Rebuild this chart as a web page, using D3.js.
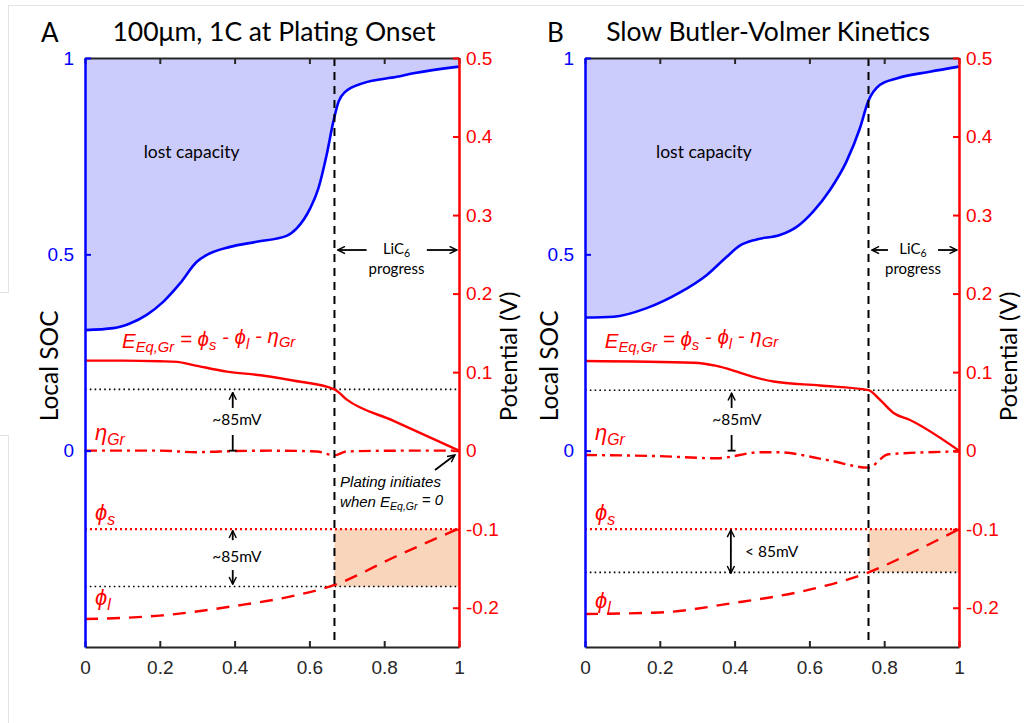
<!DOCTYPE html>
<html lang="en">
<head>
<meta charset="UTF-8">
<title>Local SOC and potentials at plating onset</title>
<style>
  body { margin: 0; background: #fff; }
  svg { display: block; font-family: "Liberation Sans", Arial, sans-serif; }
</style>
</head>
<body>
<script src="https://cdn.jsdelivr.net/npm/d3@7"></script>
<script>
  // axis ticks
  const xTicks = [0, 0.2, 0.4, 0.6, 0.8, 1];
  const socTicks = [0, 0.5, 1];
  const potTicks = [-0.2, -0.1, 0, 0.1, 0.2, 0.3, 0.4, 0.5];

  // panel A : 100um, 1C
  const socA = [[0, 0.307], [0.076, 0.312], [0.12, 0.324], [0.165, 0.346], [0.209, 0.379], [0.254, 0.426],
    [0.299, 0.481], [0.325, 0.498], [0.388, 0.519], [0.459, 0.532], [0.539, 0.547], [0.566, 0.566],
    [0.602, 0.617], [0.624, 0.668], [0.646, 0.753], [0.664, 0.838], [0.678, 0.889], [0.695, 0.913],
    [0.744, 0.936], [0.834, 0.952], [0.878, 0.961], [1, 0.978]];
  const eqA = [[0, 0.1146], [0.1, 0.1146], [0.2, 0.1138], [0.246, 0.113], [0.29, 0.109], [0.38, 0.1006],
    [0.47, 0.096], [0.56, 0.089], [0.667, 0.078], [0.7, 0.065], [0.825, 0.038], [1, 0]];
  const etaA = [[0, 0], [0.2, 0], [0.3, -0.002], [0.36, -0.001], [0.5, 0], [0.62, -0.001],
    [0.667, -0.006], [0.7, -0.001], [0.85, 0], [1, 0]];
  const phiLA = [[0, -0.2144], [0.2, -0.21], [0.397, -0.198], [0.557, -0.185], [0.667, -0.171],
    [0.825, -0.136], [1, -0.099]];
  const onsetA = 0.667, refHighA = 0.078, refLowA = -0.173;

  // panel B : slow Butler-Volmer kinetics
  const socB = [[0, 0.339], [0.076, 0.341], [0.165, 0.363], [0.254, 0.403], [0.325, 0.447], [0.379, 0.494],
    [0.414, 0.522], [0.459, 0.538], [0.521, 0.549], [0.566, 0.57], [0.61, 0.609], [0.655, 0.664],
    [0.699, 0.736], [0.735, 0.821], [0.757, 0.889], [0.788, 0.931], [0.833, 0.948], [0.922, 0.965], [1, 0.978]];
  const eqB = [[0, 0.1142], [0.29, 0.112], [0.352, 0.108], [0.406, 0.1006], [0.45, 0.094], [0.504, 0.088],
    [0.628, 0.083], [0.758, 0.077], [0.789, 0.0646], [0.825, 0.048], [0.869, 0.039], [1, 0]];
  const etaB = [[0, -0.0055], [0.2, -0.007], [0.352, -0.0097], [0.468, -0.002], [0.513, -0.002],
    [0.649, -0.012], [0.758, -0.0216], [0.811, -0.0046], [1, -0.001]];
  const phiLB = [[0, -0.208], [0.2, -0.206], [0.397, -0.194], [0.6, -0.177], [0.758, -0.155],
    [0.878, -0.129], [1, -0.1]];
  const onsetB = 0.758, refHighB = 0.077, refLowB = -0.155;

  const phiS = -0.1;

  const width = 1024, height = 723;
  const plotTop = 58, plotBottom = 647, plotW = 374;
  const blue = "#0000ff", red = "#ff0000", ink = "#262626";

  const svg = d3.select("body").append("svg").attr("width", width).attr("height", height);

  // faint screenshot borders
  const frame = svg.append("g").attr("stroke", "#e3e3e3").attr("stroke-width", 1);
  frame.append("line").attr("x1", 8).attr("x2", width).attr("y1", 5.5).attr("y2", 5.5);
  frame.append("line").attr("x1", 8.5).attr("x2", 8.5).attr("y1", 5.5).attr("y2", 292.5);
  frame.append("line").attr("x1", 0).attr("x2", 8.5).attr("y1", 292.5).attr("y2", 292.5);
  frame.append("line").attr("x1", 0).attr("x2", 8.5).attr("y1", 435.5).attr("y2", 435.5);
  frame.append("line").attr("x1", 8.5).attr("x2", 8.5).attr("y1", 435.5).attr("y2", height);

  const defs = svg.append("defs");
  defs.append("marker")
    .attr("id", "head").attr("viewBox", "0 0 10 10")
    .attr("refX", 9).attr("refY", 5)
    .attr("markerWidth", 9).attr("markerHeight", 9)
    .attr("markerUnits", "userSpaceOnUse").attr("orient", "auto-start-reverse")
    .append("path").attr("d", "M1,1L9,5L1,9").attr("fill", "none")
    .attr("stroke", "#000").attr("stroke-width", 1.6);

  // subscript helper: parts = [[text, isSub], ...]
  function rich(t, parts, subScale) {
    let down = false;
    parts.forEach(([s, sub]) => {
      const ts = t.append("tspan").text(s);
      if (sub && !down) { ts.attr("dy", "0.3em").attr("font-size", subScale); down = true; }
      else if (sub) { ts.attr("font-size", subScale); }
      else if (!sub && down) { ts.attr("dy", "-0.3em"); down = false; }
    });
    return t;
  }

  function drawPanel(cfg) {
    const x = d3.scaleLinear().domain([0, 1]).range([cfg.left, cfg.left + plotW]);
    const ySoc = d3.scaleLinear().domain([-0.5, 1]).range([plotBottom, plotTop]);
    const yPot = d3.scaleLinear().domain([-0.25, 0.5]).range([plotBottom, plotTop]);
    const g = svg.append("g");

    // lost capacity area
    g.append("path").datum(cfg.soc)
      .attr("fill", "#ccccfc")
      .attr("d", d3.area().x(d => x(d[0])).y0(ySoc(1)).y1(d => ySoc(d[1])).curve(d3.curveMonotoneX));

    // plating window
    g.append("rect")
      .attr("x", x(cfg.onset)).attr("width", x(1) - x(cfg.onset))
      .attr("y", yPot(phiS)).attr("height", yPot(cfg.refLow) - yPot(phiS))
      .attr("fill", "#f8d5bb");

    // horizontal reference lines
    const hline = (v, color, w, dash) => g.append("line")
      .attr("x1", x(0)).attr("x2", x(1)).attr("y1", yPot(v)).attr("y2", yPot(v))
      .attr("stroke", color).attr("stroke-width", w).attr("stroke-dasharray", dash);
    hline(cfg.refHigh, "#000", 1.6, "1.6,3.2");
    hline(cfg.refLow, "#000", 1.6, "1.6,3.2");
    hline(phiS, red, 2.2, "2,3");

    const line = d3.line().x(d => x(d[0])).y(d => yPot(d[1])).curve(d3.curveMonotoneX);
    g.append("path").datum(cfg.phiL).attr("d", line).attr("fill", "none")
      .attr("stroke", red).attr("stroke-width", 2.4).attr("stroke-dasharray", "13,9");
    g.append("path").datum(cfg.eta).attr("d", line).attr("fill", "none")
      .attr("stroke", red).attr("stroke-width", 2.4).attr("stroke-dasharray", "12,5,3,5");
    g.append("path").datum(cfg.eq).attr("d", line).attr("fill", "none")
      .attr("stroke", red).attr("stroke-width", 2.4);

    g.append("path").datum(cfg.soc).attr("fill", "none")
      .attr("stroke", blue).attr("stroke-width", 2.6)
      .attr("d", d3.line().x(d => x(d[0])).y(d => ySoc(d[1])).curve(d3.curveMonotoneX));

    // onset marker
    g.append("line")
      .attr("x1", x(cfg.onset)).attr("x2", x(cfg.onset))
      .attr("y1", yPot(0.5)).attr("y2", yPot(-0.242))
      .attr("stroke", "#000").attr("stroke-width", 2).attr("stroke-dasharray", "8,6");

    // axes
    const styleAxis = (a, color, size) => {
      a.attr("font-family", "'Liberation Sans', Arial, sans-serif").attr("font-size", size);
      a.select(".domain").attr("stroke", color);
      a.selectAll(".tick line").attr("stroke", color).attr("stroke-width", 2);
      a.selectAll(".tick text").attr("fill", color);
    };
    const axB = g.append("g").attr("transform", `translate(0,${plotBottom})`)
      .call(d3.axisBottom(x).tickValues(xTicks).tickSize(-6).tickSizeOuter(0).tickPadding(14).tickFormat(d => String(d)));
    styleAxis(axB, ink, 19);
    axB.select(".domain").attr("stroke-width", 2);
    const axT = g.append("g").attr("transform", `translate(0,${plotTop})`)
      .call(d3.axisTop(x).tickValues(xTicks).tickSize(-6).tickSizeOuter(0).tickFormat(""));
    styleAxis(axT, ink, 19);
    axT.select(".domain").attr("stroke-width", 2);
    const axL = g.append("g").attr("transform", `translate(${x(0)},0)`)
      .call(d3.axisLeft(ySoc).tickValues(socTicks).tickSize(-6).tickSizeOuter(0).tickPadding(11).tickFormat(d => String(d)));
    styleAxis(axL, blue, 19);
    axL.select(".domain").attr("stroke-width", 2.5);
    const axR = g.append("g").attr("transform", `translate(${x(1)},0)`)
      .call(d3.axisRight(yPot).tickValues(potTicks).tickSize(-6).tickSizeOuter(0).tickPadding(7).tickFormat(d => String(d)));
    styleAxis(axR, red, 19);
    axR.select(".domain").attr("stroke-width", 2.5);

    // axis titles
    g.append("text").attr("transform", `translate(${x(0) - 27},${yPot(0.108)}) rotate(-90)`)
      .attr("text-anchor", "middle").attr("font-family", "Lato, sans-serif").attr("font-size", 24.5)
      .attr("fill", "#000").text("Local SOC");
    g.append("text").attr("transform", `translate(${x(1) + 58},${yPot(0.12)}) rotate(-90)`)
      .attr("text-anchor", "middle").attr("font-family", "Lato, sans-serif").attr("font-size", 24)
      .attr("fill", "#000").text("Potential (V)");

    // panel letter and title
    g.append("text").attr("x", cfg.left + cfg.letterDx).attr("y", 42)
      .attr("font-family", "Lato, sans-serif").attr("font-size", 26).text(cfg.letter);
    g.append("text").attr("x", cfg.titleX).attr("y", 40.5).attr("text-anchor", "middle")
      .attr("font-family", "Lato, sans-serif").attr("font-size", 26.5).text(cfg.title);

    // labels
    g.append("text").attr("x", x(cfg.lostX)).attr("y", ySoc(0.745)).attr("text-anchor", "middle")
      .attr("font-family", "Lato, sans-serif").attr("font-size", 17.5).text("lost capacity");

    const it = (px, v, size) => g.append("text").attr("x", px).attr("y", yPot(v))
      .attr("fill", red).attr("font-style", "italic").attr("font-size", size)
      .attr("font-family", "'Liberation Sans', Arial, sans-serif");
    rich(it(x(cfg.eqX), 0.131, 20.5),
      [["E", false], ["Eq,Gr", true], [" = \u03d5", false], ["s", true], [" - \u03d5", false], ["l", true],
       [" - \u03b7", false], ["Gr", true]], "0.72em");
    rich(it(x(0.027), 0.0137, 22), [["\u03b7", false], ["Gr", true]], "0.72em");
    rich(it(x(0.027), -0.0883, 22), [["\u03d5", false], ["s", true]], "0.72em");
    rich(it(x(0.027), cfg.phiLLabel, 22), [["\u03d5", false], ["l", true]], "0.72em");

    // LiC6 progress
    const arrow = (x1, v1, x2, v2) => g.append("line")
      .attr("x1", x(x1)).attr("y1", yPot(v1)).attr("x2", x(x2)).attr("y2", yPot(v2))
      .attr("stroke", "#000").attr("stroke-width", 1.8).attr("marker-end", "url(#head)");
    arrow(cfg.lic[1], 0.2555, cfg.onset + 0.009, 0.2555);
    arrow(cfg.lic[2], 0.2555, 0.994, 0.2555);
    rich(g.append("text").attr("x", x(cfg.lic[0])).attr("y", yPot(0.2505)).attr("text-anchor", "middle")
      .attr("font-family", "Lato, sans-serif").attr("font-size", 15),
      [["LiC", false], ["6", true]], "0.7em");
    g.append("text").attr("x", x(cfg.lic[0])).attr("y", yPot(0.2245)).attr("text-anchor", "middle")
      .attr("font-family", "Lato, sans-serif").attr("font-size", 15).text("progress");

    // overpotential gap (upper)
    arrow(cfg.gapX, 0.0544, cfg.gapX, cfg.refHigh - 0.004);
    g.append("line").attr("x1", x(cfg.gapX)).attr("x2", x(cfg.gapX)).attr("y1", yPot(0.02)).attr("y2", yPot(0))
      .attr("stroke", "#000").attr("stroke-width", 1.8);
    g.append("line").attr("x1", x(cfg.gapX) - 4).attr("x2", x(cfg.gapX) + 4).attr("y1", yPot(0)).attr("y2", yPot(0))
      .attr("stroke", "#000").attr("stroke-width", 1.8);
    g.append("text").attr("x", x(0.406)).attr("y", yPot(0.033)).attr("text-anchor", "middle")
      .attr("font-family", "Lato, sans-serif").attr("font-size", 15.5).text("~85mV");

    cfg.lower(g, x, yPot, arrow);
  }

  drawPanel({
    left: 85, letter: "A", letterDx: -44, title: "100\u03bcm, 1C at Plating Onset", titleX: 274,
    soc: socA, eq: eqA, eta: etaA, phiL: phiLA, onset: onsetA, refHigh: refHighA, refLow: refLowA,
    lostX: 0.285, eqX: 0.099, phiLLabel: -0.1965, lic: [0.833, 0.753, 0.914], gapX: 0.395,
    lower: (g, x, yPot, arrow) => {
      arrow(0.395, -0.114, 0.395, -0.1 - 0.002);
      arrow(0.395, -0.152, 0.395, refLowA + 0.003);
      g.append("text").attr("x", x(0.406)).attr("y", yPot(-0.1413)).attr("text-anchor", "middle")
        .attr("font-family", "Lato, sans-serif").attr("font-size", 15.5).text("~85mV");
      const p = (v) => g.append("text").attr("x", x(0.682)).attr("y", yPot(v))
        .attr("font-style", "italic").attr("font-size", 15).attr("fill", "#000");
      p(-0.0458).text("Plating initiates");
      rich(p(-0.0713), [["when E", false], ["Eq,Gr", true], [" = 0", false]], "0.7em");
      arrow(0.936, -0.0246, 0.989, -0.0055);
    }
  });

  drawPanel({
    left: 585, letter: "B", letterDx: -38, title: "Slow Butler-Volmer Kinetics", titleX: 768,
    soc: socB, eq: eqB, eta: etaB, phiL: phiLB, onset: onsetB, refHigh: refHighB, refLow: refLowB,
    lostX: 0.318, eqX: 0.053, phiLLabel: -0.2004, lic: [0.877, 0.81, 0.944], gapX: 0.392,
    lower: (g, x, yPot, arrow) => {
      arrow(0.39, -0.128, 0.39, -0.1 - 0.001);
      arrow(0.39, -0.127, 0.39, refLowB - 0.001);
      g.append("text").attr("x", x(0.428)).attr("y", yPot(-0.1357))
        .attr("font-family", "Lato, sans-serif").attr("font-size", 15.5).text("< 85mV");
    }
  });
</script>
</body>
</html>
